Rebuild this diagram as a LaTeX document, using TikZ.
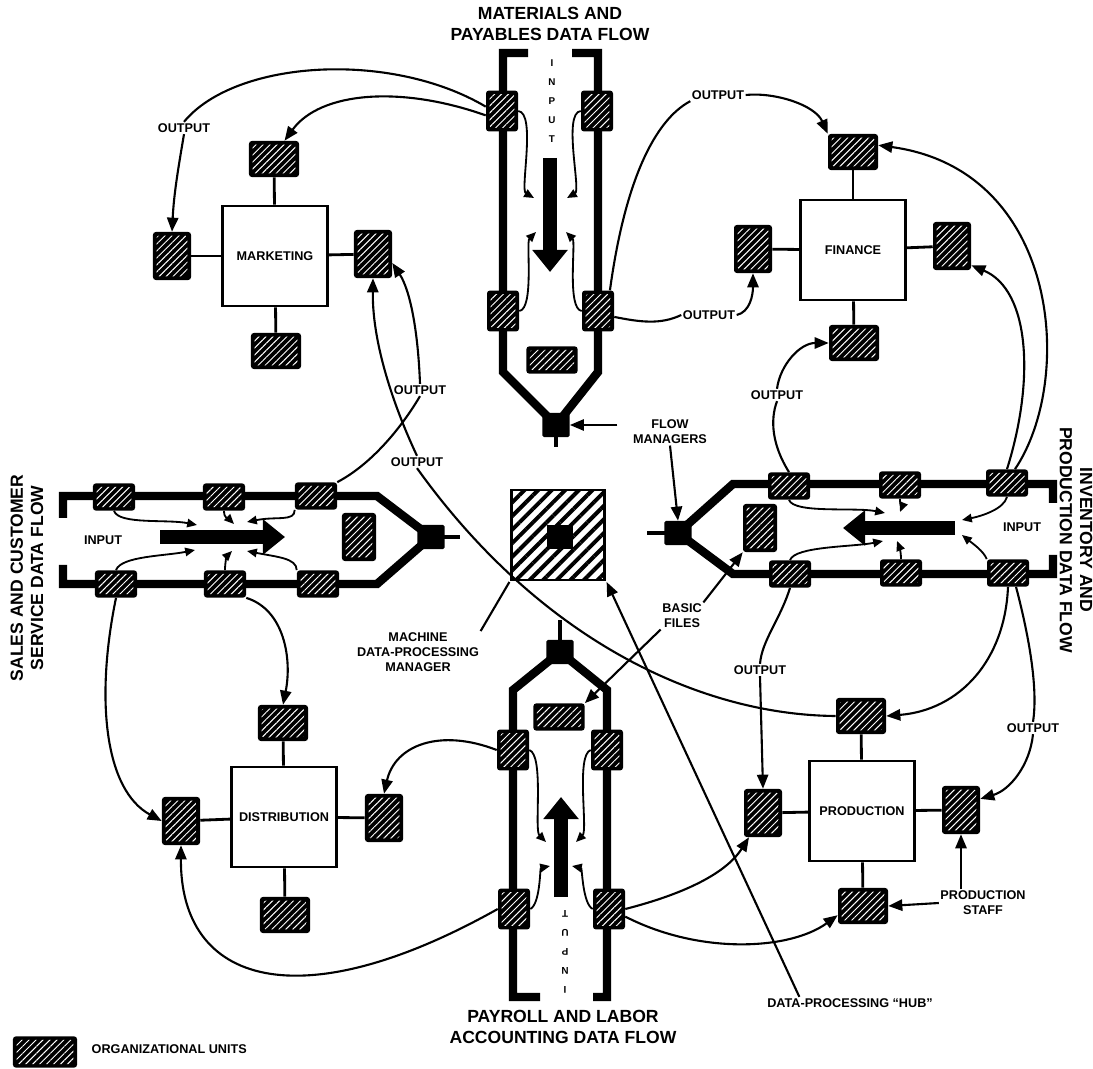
\documentclass[tikz,border=0pt]{standalone}
\usepackage{fontspec}
\setsansfont{Liberation Sans}
\usetikzlibrary{arrows.meta, patterns.meta, backgrounds, calc}

\newcommand{\lblfont}{\sffamily\bfseries\fontsize{9}{10.5}\selectfont}
\newcommand{\ttlfont}{\sffamily\bfseries\fontsize{12.5}{14.5}\selectfont}
\newcommand{\inpfont}{\sffamily\bfseries\fontsize{7}{13.5}\selectfont}

\tikzset{
  unit/.style={fill=black, rounded corners=2pt, inner sep=0pt,
    path picture={\fill[pattern={Lines[angle=45,distance=3.5pt,line width=0.7pt]}, pattern color=white]
      ([shift={(2.5pt,2.5pt)}]path picture bounding box.south west) rectangle
      ([shift={(-2.5pt,-2.5pt)}]path picture bounding box.north east);}},
  hunit/.style={unit, minimum width=1.05cm, minimum height=0.68cm},
  vunit/.style={unit, minimum width=0.8cm, minimum height=1.02cm},
  sunit/.style={unit, minimum width=0.95cm, minimum height=1.2cm},
  tunit/.style={unit, minimum width=1.25cm, minimum height=0.9cm},
  hfile/.style={unit, minimum width=1.28cm, minimum height=0.68cm},
  vfile/.style={unit, minimum width=0.85cm, minimum height=1.2cm},
  fm/.style={fill=black, rounded corners=1pt, minimum width=0.68cm, minimum height=0.6cm, inner sep=0pt},
  dept/.style={draw, line width=2pt, fill=white, minimum width=2.62cm, minimum height=2.5cm, font=\lblfont},
  hubbox/.style={draw, line width=2pt, minimum width=2.33cm, minimum height=2.25cm,
    pattern={Lines[angle=45,distance=0.24cm,line width=0.1cm]}},
  lbl/.style={font=\lblfont, align=center, inner sep=1pt},
  ttl/.style={font=\ttlfont, align=center, inner sep=1pt},
  inp/.style={font=\inpfont, align=center, inner sep=0pt},
  rail/.style={line width=6pt},
  stem/.style={line width=3pt},
  tie/.style={line width=2pt},
  conn/.style={line width=1.5pt},
  flow/.style={conn, -{Triangle[length=10pt,width=8pt]}},
  sflow/.style={line width=1.3pt, -{Triangle[length=7pt,width=6pt]}},
  bigflow/.style={line width=0.35cm, -{Triangle[length=0.55cm,width=0.85cm]}},
}

\begin{document}
\begin{tikzpicture}[x=0.025cm, y=-0.025cm]
  \useasboundingbox (0,0) rectangle (1093,1069);

  % departments
  \node[dept] (mkt) at (275,256) {MARKETING};
  \node[tunit] (mktN) at (274,159) {};
  \node[sunit] (mktW) at (172,256) {};
  \node[sunit] (mktE) at (373,254) {};
  \node[tunit] (mktS) at (276,351) {};
  \node[dept] (fin) at (853,250) {FINANCE};
  \node[tunit] (finN) at (853,152) {};
  \node[sunit] (finW) at (753,249) {};
  \node[sunit] (finE) at (952,246) {};
  \node[tunit] (finS) at (854,343) {};
  \node[dept] (dis) at (284,817) {DISTRIBUTION};
  \node[tunit] (disN) at (283,723) {};
  \node[sunit] (disW) at (181,821) {};
  \node[sunit] (disE) at (384,818) {};
  \node[tunit] (disS) at (285,915) {};
  \node[dept] (pro) at (862,811) {PRODUCTION};
  \node[tunit] (proN) at (861,716) {};
  \node[sunit] (proW) at (763,813) {};
  \node[sunit] (proE) at (961,810) {};
  \node[tunit] (proS) at (863,906) {};
  \foreach \d in {mkt, fin, dis, pro}
    \foreach \s in {N, W, E, S}
      \draw[tie] (\d) -- (\d\s);

  % materials and payables channel
  \node[vunit] (matTL) at (502,111) {};
  \node[vunit] (matTR) at (597,111) {};
  \node[vunit] (matBL) at (503,311) {};
  \node[vunit] (matBR) at (598,311) {};
  \node[hfile] (matFile) at (552,360) {};
  \node[fm] (matFM) at (556,425) {};
  \node[inp] (matInput) at (552,101) {I\\N\\P\\U\\T};
  \node[ttl] (matTitle) at (550,24) {MATERIALS AND\\PAYABLES DATA FLOW};

  % sales and customer service channel
  \node[hunit] (salTL) at (114,497) {};
  \node[hunit] (salTM) at (224,497) {};
  \node[hunit] (salTR) at (316,496) {};
  \node[hunit] (salBL) at (116,584) {};
  \node[hunit] (salBM) at (225,584) {};
  \node[hunit] (salBR) at (318,584) {};
  \node[vfile] (salFile) at (359,537) {};
  \node[fm] (salFM) at (431,537) {};
  \node[lbl] (salInput) at (103,540) {INPUT};
  \node[ttl, rotate=90] (salTitle) at (27,578) {SALES AND CUSTOMER\\SERVICE DATA FLOW};

  % inventory and production channel
  \node[hunit] (invTL) at (789,486) {};
  \node[hunit] (invTM) at (900,485) {};
  \node[hunit] (invTR) at (1007,483) {};
  \node[hunit] (invBL) at (790,574) {};
  \node[hunit] (invBM) at (901,573) {};
  \node[hunit] (invBR) at (1008,573) {};
  \node[vfile] (invFile) at (760,528) {};
  \node[fm] (invFM) at (678,533) {};
  \node[lbl] (invInput) at (1022,527) {INPUT};
  \node[ttl, rotate=-90] (invTitle) at (1076,540) {INVENTORY AND\\PRODUCTION DATA FLOW};

  % payroll and labor channel
  \node[fm] (payFM) at (560,652) {};
  \node[hfile] (payFile) at (559,717) {};
  \node[vunit] (payTL) at (513,750) {};
  \node[vunit] (payTR) at (607,750) {};
  \node[vunit] (payBL) at (514,909) {};
  \node[vunit] (payBR) at (609,909) {};
  \node[inp, rotate=180] (payInput) at (565,952) {I\\N\\P\\U\\T};
  \node[ttl] (payTitle) at (563,1027) {PAYROLL AND LABOR\\ACCOUNTING DATA FLOW};

  % hub
  \node[hubbox] (hub) at (558,535) {};
  \node[fill=black, minimum width=0.65cm, minimum height=0.62cm, inner sep=0pt] (hubCore) at (560,537) {};

  % labels
  \node[lbl] (lblOutMkt) at (184,128) {OUTPUT};
  \node[lbl] (lblOutFinN) at (718,95) {OUTPUT};
  \node[lbl] (lblOutFinW) at (709,315) {OUTPUT};
  \node[lbl] (lblOutFinS) at (777,395) {OUTPUT};
  \node[lbl] (lblOutMktE) at (420,390) {OUTPUT};
  \node[lbl] (lblOutPro) at (417,462) {OUTPUT};
  \node[lbl] (lblOutProW) at (760,670) {OUTPUT};
  \node[lbl] (lblOutProE) at (1033,728) {OUTPUT};
  \node[lbl] (lblFlow) at (670,432) {FLOW\\MANAGERS};
  \node[lbl] (lblFiles) at (682,616) {BASIC\\FILES};
  \node[lbl] (lblMachine) at (418,652) {MACHINE\\DATA-PROCESSING\\MANAGER};
  \node[lbl] (lblStaff) at (983,903) {PRODUCTION\\STAFF};
  \node[lbl] (lblHub) at (850,1003) {DATA-PROCESSING “HUB”};

  % legend
  \node[unit, minimum width=1.6cm, minimum height=0.78cm] (legUnit) at (45,1052) {};
  \node[lbl, anchor=west] (legText) at (90,1049) {ORGANIZATIONAL UNITS};

  % rails
  \begin{pgfonlayer}{background}
    \fill[white] (0,0) rectangle (1093,1069);
    \draw[rail] (matFM.center) -- (503,372) -- (503,53) -- (528,53);
    \draw[rail] (matFM.center) -- (598,372) -- (598,53) -- (572,53);
    \draw[stem] (matFM.center) -- (556,447);
    \draw[rail] (salFM.center) -- (377,496) -- (63,496) -- (63,518);
    \draw[rail] (salFM.center) -- (377,584) -- (63,584) -- (63,565);
    \draw[stem] (salFM.center) -- (460,537);
    \draw[rail] (invFM.center) -- (733,484) -- (1053,484) -- (1053,503);
    \draw[rail] (invFM.center) -- (733,574) -- (1053,574) -- (1053,555);
    \draw[stem] (invFM.center) -- (647,533);
    \draw[rail] (payFM.center) -- (513,690) -- (513,997) -- (540,997);
    \draw[rail] (payFM.center) -- (607,690) -- (607,997) -- (593,997);
    \draw[stem] (payFM.center) -- (560,620);
  \end{pgfonlayer}

  % input flows inside the channels
  \coordinate (matS) at (550,158); \coordinate (matE) at (550,272);
  \coordinate (salS) at (160,537); \coordinate (salE) at (285,537);
  \coordinate (invS) at (955,528); \coordinate (invE) at (843,528);
  \coordinate (payS) at (561,897); \coordinate (payE) at (561,797);
  \foreach \c in {mat, sal, inv, pay} \draw[bigflow] (\c S) -- (\c E);

  \coordinate (matA1) at (534,198); \coordinate (matA2) at (567,198);
  \coordinate (matA3) at (536,232); \coordinate (matA4) at (566,232);
  \draw[sflow] (matTL.east) .. controls +(18,2) and +(-14,-8) .. (matA1);
  \draw[sflow] (matTR.west) .. controls +(-18,2) and +(14,-8) .. (matA2);
  \draw[sflow] (matBL.east) .. controls +(15,-2) and +(-10,10) .. (matA3);
  \draw[sflow] (matBR.west) .. controls +(-15,-2) and +(10,10) .. (matA4);

  \coordinate (salA1) at (197,525); \coordinate (salA2) at (234,524);
  \coordinate (salA3) at (247,522); \coordinate (salA4) at (195,550);
  \coordinate (salA5) at (232,551); \coordinate (salA6) at (247,551);
  \draw[sflow] (salTL.south) .. controls +(5,14) and +(-30,-6) .. (salA1);
  \draw[sflow] (salTM.south) .. controls +(0,8) and +(-5,-5) .. (salA2);
  \draw[sflow] (salTR.south west) .. controls +(0,12) and +(30,-6) .. (salA3);
  \draw[sflow] (salBL.north) .. controls +(5,-14) and +(-30,6) .. (salA4);
  \draw[sflow] (salBM.north) .. controls +(0,-8) and +(-5,5) .. (salA5);
  \draw[sflow] (salBR.north west) .. controls +(0,-12) and +(30,6) .. (salA6);

  \coordinate (invA1) at (885,513); \coordinate (invA2) at (900,512);
  \coordinate (invA3) at (962,520); \coordinate (invA4) at (883,541);
  \coordinate (invA5) at (897,541); \coordinate (invA6) at (962,535);
  \draw[sflow] (invTL.south) .. controls +(5,14) and +(-30,-6) .. (invA1);
  \draw[sflow] (invTM.south) .. controls +(0,8) and +(2,-5) .. (invA2);
  \draw[sflow] (invTR.south) .. controls +(-3,12) and +(20,-4) .. (invA3);
  \draw[sflow] (invBL.north) .. controls +(5,-14) and +(-30,6) .. (invA4);
  \draw[sflow] (invBM.north) .. controls +(0,-8) and +(2,5) .. (invA5);
  \draw[sflow] (invBR.north west) .. controls +(-3,-8) and +(10,8) .. (invA6);

  \coordinate (payA1) at (546,842); \coordinate (payA2) at (576,842);
  \coordinate (payA3) at (550,866); \coordinate (payA4) at (572,866);
  \draw[sflow] (payTL.east) .. controls +(15,5) and +(-12,-12) .. (payA1);
  \draw[sflow] (payTR.west) .. controls +(-15,5) and +(12,-12) .. (payA2);
  \draw[sflow] (payBL.east) .. controls +(10,-5) and +(-10,2) .. (payA3);
  \draw[sflow] (payBR.west) .. controls +(-10,-5) and +(10,2) .. (payA4);

  % outputs
  \draw[conn] (matTL.165) .. controls (390,50) and (235,60) .. (lblOutMkt.north);
  \draw[flow] (lblOutMkt.south) .. controls +(-5,30) and +(2,-40) .. (mktW.north);
  \draw[flow] (matTL.195) .. controls (400,85) and (320,92) .. (mktN.60);
  \draw[conn] (matBR.60) .. controls (625,180) and (655,120) .. (lblOutFinN.south west);
  \draw[flow] (lblOutFinN.east) .. controls (775,92) and (815,105) .. (finN.north west);
  \draw[conn] (matBR.-20) .. controls (640,322) and (660,325) .. (lblOutFinW.west);
  \draw[flow] (lblOutFinW.east) .. controls (750,312) and (753,295) .. (finW.south);
  \draw[conn] (salTR.north east) .. controls (370,465) and (400,430) .. (lblOutMktE.south);
  \draw[flow] (lblOutMktE.north) .. controls (418,330) and (410,290) .. (mktE.-25);
  \draw[conn] (proN.west) .. controls (700,715) and (540,640) .. (lblOutPro.south);
  \draw[flow] (lblOutPro.north) .. controls (400,420) and (372,350) .. (mktE.south);
  \draw[conn] (invTL.north) .. controls (772,445) and (770,420) .. (lblOutFinS.south);
  \draw[flow] (lblOutFinS.north) .. controls (780,365) and (800,343) .. (finS.west);
  \draw[flow] (invTR.north) .. controls (1035,380) and (1030,290) .. (finE.-45);
  \draw[flow] (invTR.60) .. controls (1075,380) and (1060,170) .. (finN.15);
  \draw[conn] (invBL.south) .. controls (780,620) and (762,640) .. (lblOutProW.north);
  \draw[flow] (lblOutProW.south) -- (proW.north);
  \draw[flow] (invBR.south) .. controls (1005,660) and (960,710) .. (proN.east);
  \draw[conn] (invBR.-60) .. controls (1030,640) and (1038,690) .. (lblOutProE.north);
  \draw[flow] (lblOutProE.south) .. controls (1030,765) and (1010,790) .. (proE.30);
  \draw[flow] (payTL.west) .. controls (440,728) and (395,745) .. (disE.north);
  \draw[flow] (payBL.west) .. controls (300,1020) and (180,985) .. (disW.south);
  \draw[flow] (payBR.east) .. controls (680,895) and (725,875) .. (proW.-120);
  \draw[flow] (payBR.-25) .. controls (700,955) and (790,950) .. (proS.200);
  \draw[flow] (salBL.south) .. controls (95,700) and (105,790) .. (disW.west);
  \draw[flow] (salBM.south east) .. controls (285,610) and (292,660) .. (disN.north);

  % pointers
  \draw[flow] (lblFlow.south) -- (invFM.north);
  \draw[flow, shorten <=10pt] (lblFlow.north west |- matFM.east) -- (matFM.east);
  \draw[flow] (lblFiles.north east) -- (invFile.south west);
  \draw[flow] (lblFiles.south west) -- (payFile.north east);
  \draw[conn] (lblMachine.north east) -- (hub.south west);
  \draw[flow] ($(lblHub.north west)!0.2!(lblHub.north east)$) -- (hub.south east);
  \draw[flow] (proE.south |- lblStaff.north) -- (proE.south);
  \draw[flow] (lblStaff.west) -- (proS.east);
\end{tikzpicture}
\end{document}
